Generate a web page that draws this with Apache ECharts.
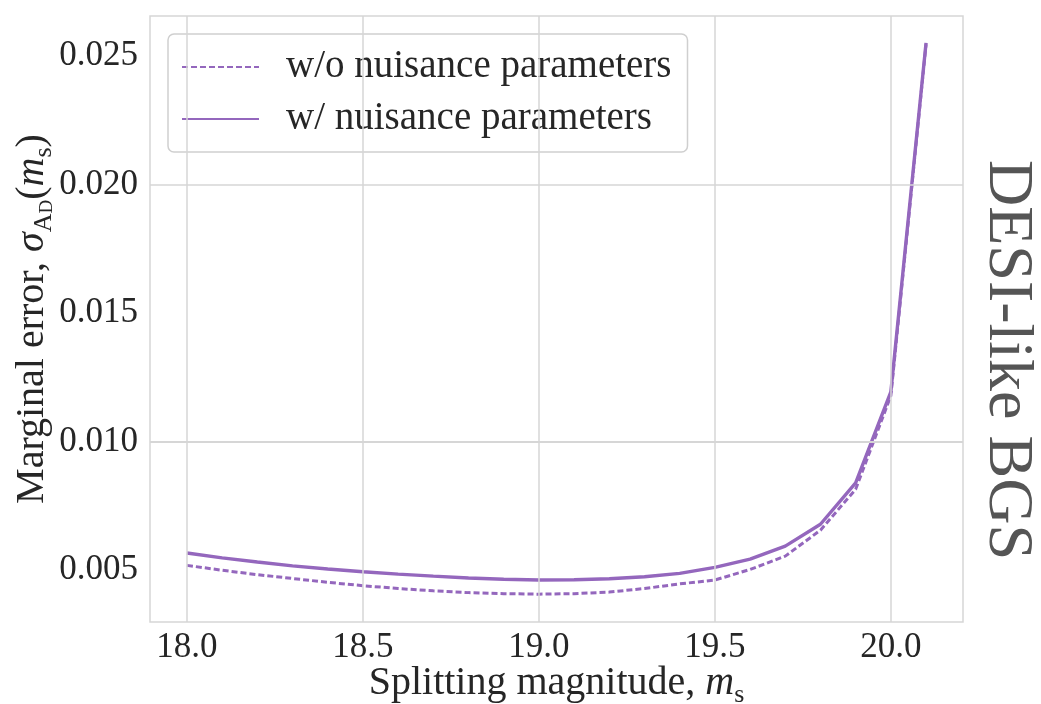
<!DOCTYPE html>
<html>
<head>
<meta charset="utf-8">
<script src="https://cdn.jsdelivr.net/npm/echarts@6/dist/echarts.min.js"></script>
<style>
  html, body { margin: 0; padding: 0; background: #ffffff; }
  #chart { width: 1041px; height: 704px; }
</style>
</head>
<body>
<div id="chart"></div>
<script>
// Splitting magnitude grid (m_s)
const magnitudes = [18.0, 18.1, 18.2, 18.3, 18.4, 18.5, 18.6, 18.7, 18.8, 18.9, 19.0,
                    19.1, 19.2, 19.3, 19.4, 19.5, 19.6, 19.7, 19.8, 19.9, 20.0, 20.1];
// Marginal error without nuisance parameters
const errNoNuisance = [0.00518, 0.00499, 0.00482, 0.00467, 0.00452, 0.00439, 0.00428, 0.00419,
                       0.00412, 0.00408, 0.00406, 0.00408, 0.00414, 0.00428, 0.00446, 0.00461,
                       0.00502, 0.00554, 0.00655, 0.00814, 0.01178, 0.02545];
// Marginal error with nuisance parameters
const errNuisance = [0.00566, 0.00547, 0.00531, 0.00516, 0.00504, 0.00493, 0.00484, 0.00476,
                     0.00469, 0.00464, 0.00461, 0.00462, 0.00466, 0.00474, 0.00487, 0.00510,
                     0.00542, 0.00593, 0.00678, 0.00839, 0.01193, 0.02551];
// Tick positions
const xTicks = [18.0, 18.5, 19.0, 19.5, 20.0];
const yTicks = [0.005, 0.010, 0.015, 0.020, 0.025];

const seriesNames = ['w/o nuisance parameters', 'w/ nuisance parameters'];

const PURPLE = '#9467bd';
const GRID = '#d6d6d6';
const FONT = '"Liberation Serif", "DejaVu Serif", serif';
const TEXT = '#262626';

const chart = echarts.init(document.getElementById('chart'), null, { renderer: 'canvas' });

const pairs = (ys) => magnitudes.map((m, i) => [m, ys[i]]);

const subRich = {
  it: { fontFamily: FONT, fontStyle: 'italic', fontSize: 40, color: TEXT, lineHeight: 50 },
  rm: { fontFamily: FONT, fontSize: 40, color: TEXT, lineHeight: 50 },
  sub: { fontFamily: FONT, fontSize: 26, color: TEXT, verticalAlign: 'bottom', lineHeight: 26 },
  subsub: { fontFamily: FONT, fontSize: 19, color: TEXT, verticalAlign: 'bottom', lineHeight: 15 }
};

const option = {
  animation: false,
  backgroundColor: '#ffffff',
  grid: {
    left: 150, right: 78, top: 16, bottom: 82,
    outerBoundsMode: 'none',
    show: true, borderColor: GRID, borderWidth: 1.5, backgroundColor: 'transparent'
  },
  legend: {
    data: seriesNames,
    orient: 'vertical',
    left: 168, top: 34,
    padding: [13, 16, 13, 13],
    itemWidth: 77, itemHeight: 14, itemGap: 12,
    itemStyle: { opacity: 0 },
    backgroundColor: 'rgba(255,255,255,0.85)',
    borderColor: '#cfcfcf', borderWidth: 1.5, borderRadius: 6,
    textStyle: { fontFamily: FONT, fontSize: 39, color: TEXT, lineHeight: 40, padding: [0, 0, 0, 22] }
  },
  xAxis: {
    type: 'value',
    min: 17.895, max: 20.205,
    splitLine: { show: false },
    axisLine: { show: false },
    axisTick: { show: false, customValues: xTicks },
    axisLabel: {
      customValues: xTicks,
      formatter: (v) => v.toFixed(1),
      fontFamily: FONT, fontSize: 35, color: TEXT, margin: 8
    },
    name: '{rm|Splitting magnitude, }{it|m}{sub|s}',
    nameLocation: 'middle', nameGap: 36, nameMoveOverlap: false,
    nameTextStyle: { rich: subRich }
  },
  yAxis: {
    type: 'value',
    min: 0.002977, max: 0.026556,
    splitLine: { show: false },
    axisLine: { show: false },
    axisTick: { show: false, customValues: yTicks },
    axisLabel: {
      customValues: yTicks,
      formatter: (v) => v.toFixed(3),
      fontFamily: FONT, fontSize: 35, color: TEXT, margin: 12
    },
    name: '{rm|Marginal error, }{it|σ}{sub|A}{subsub|D}{rm|(}{it|m}{sub|s}{rm|)}',
    nameLocation: 'middle', nameGap: 93, nameMoveOverlap: false,
    nameTextStyle: { rich: subRich }
  },
  graphic: [{
    type: 'text',
    x: 1007, y: 360,
    rotation: -Math.PI / 2,
    style: {
      text: 'DESI-like BGS',
      fontFamily: FONT, fontSize: 64, fill: '#555555',
      textAlign: 'center', textVerticalAlign: 'middle'
    }
  }],
  series: [
    {
      // background grid lines at tick positions
      type: 'line', data: [], z: 1, silent: true,
      markLine: {
        silent: true, symbol: ['none', 'none'], animation: false,
        label: { show: false },
        lineStyle: { type: 'solid', color: GRID, width: 1.5 },
        emphasis: { disabled: true },
        data: xTicks.map(v => ({ xAxis: v })).concat(yTicks.map(v => ({ yAxis: v })))
      }
    },
    {
      name: seriesNames[0], type: 'line', z: 3,
      data: pairs(errNoNuisance),
      symbol: 'none', smooth: false,
      lineStyle: { color: PURPLE, width: 3, type: [6, 3] },
      itemStyle: { color: PURPLE }
    },
    {
      name: seriesNames[1], type: 'line', z: 4,
      data: pairs(errNuisance),
      symbol: 'none', smooth: false,
      lineStyle: { color: PURPLE, width: 3.4 },
      itemStyle: { color: PURPLE }
    }
  ]
};

chart.setOption(option);
</script>
</body>
</html>
